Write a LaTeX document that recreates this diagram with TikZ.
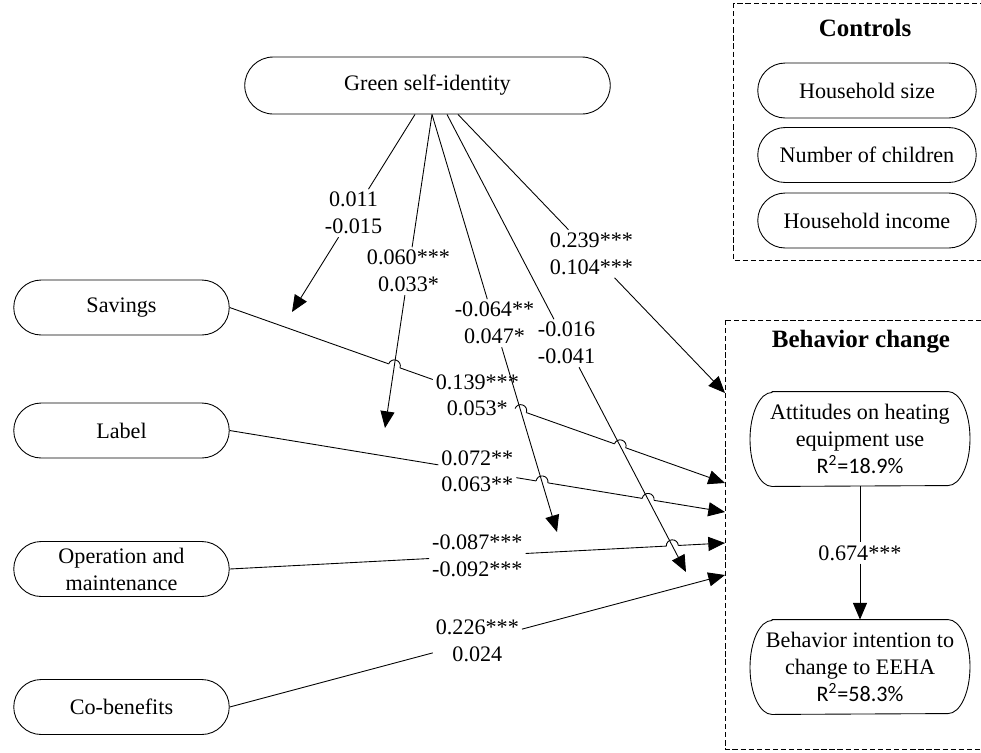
\documentclass[tikz,border=0pt]{standalone}
\usepackage{fontspec}
\setmainfont{Liberation Serif}
\newfontfamily\carlito{Carlito}
\usetikzlibrary{arrows.meta,positioning,calc,shapes.misc}

% small jump of a line over a crossing one
\newcommand{\hop}[2]{%
    \fill[white] (#1) circle (6);
    \draw (#1) ++({#2+180}:6) arc[start angle={#2+180}, end angle={#2+360}, radius=6];
}
% outline with elliptic ends round a tall node
\newcommand{\capsule}[1]{%
    \draw ($(#1.north)+(-88,0)$) -- ($(#1.north)+(88,0)$)
        arc[start angle=-90, end angle=90, x radius=22, y radius=47]
        -- ($(#1.south)+(-88,0)$)
        arc[start angle=90, end angle=270, x radius=22, y radius=47] -- cycle;
}

\begin{document}
\begin{tikzpicture}[x=0.02cm, y=-0.02cm, line width=0.5pt,
    font=\fontsize{12.6}{15.3}\selectfont,
    var/.style={draw, rounded rectangle, minimum width=219*0.02cm, minimum height=55*0.02cm, inner sep=1pt, align=center},
    tall/.style={minimum width=220*0.02cm, minimum height=94*0.02cm, inner sep=0pt, align=center},
    lab/.style={inner sep=1.5pt, align=center},
    grp/.style={dash pattern=on 3pt off 1.6pt},
    head/.style={font=\fontsize{14.2}{17}\selectfont\bfseries},
    arr/.style={-{Triangle[length=9.5pt,width=8pt]}}]
    \useasboundingbox (0,0) rectangle (981,752);

    % Predictors
    \node[var, minimum width=369*0.02cm, minimum height=57*0.02cm] (green) at (427.5,85.5) {Green self-identity};
    \node[var] (sav) at (121.5,307.5) {Savings};
    \node[var] (lbl) at (121.5,430.5) {Label};
    \node[var] (ope) at (121.5,569) {Operation and\\maintenance};
    \node[var] (cob) at (121.5,707) {Co-benefits};

    % Controls
    \draw[grp] (733,3) rectangle (990,260);
    \node[head] (ctl) at (865,28) {Controls};
    \node[var, minimum width=222*0.02cm] (hsize) at (867,90.5) {Household size};
    \node[var, minimum width=222*0.02cm] (child) at (867,155) {Number of children};
    \node[var, minimum width=222*0.02cm] (income) at (867,220.5) {Household income};

    % Behavior change
    \draw[grp] (725,320) rectangle (990,749);
    \node[head] (bch) at (861,342) {Behavior change};
    \node[tall] (att) at (860,439) {Attitudes on heating\\equipment use\\{\carlito R\textsuperscript{2}=18.9\%}};
    \node[tall] (bint) at (860,667) {Behavior intention to\\change to EEHA\\{\carlito R\textsuperscript{2}=58.3\%}};
    \capsule{att}
    \capsule{bint}

    % End points
    \coordinate (e1) at (725,393);
    \coordinate (e2) at (725,483);
    \coordinate (e3) at (725,512);
    \coordinate (e4) at (725,543);
    \coordinate (e5) at (725,575);
    \coordinate (t1) at (292,312);
    \coordinate (t2) at (385,428);
    \coordinate (t3) at (557,532);
    \coordinate (t4) at (686,572);
    \coordinate (g1) at ($(green.south)+(-12.5,0)$);
    \coordinate (g2) at ($(green.south)+(4.5,0)$);
    \coordinate (g3) at ($(green.south)+(4.5,0)$);
    \coordinate (g4) at ($(green.south)+(19.5,0)$);
    \coordinate (g5) at ($(green.south)+(30.5,0)$);

    % Paths to behavior change
    \foreach \a/\b/\txt in {sav/e2/{0.139***\\0.053*}, lbl/e3/{0.072**\\0.063**},
                            ope/e4/{-0.087***\\-0.092***}, cob/e5/{0.226***\\0.024}} {
        \path (\a.east) -- (\b) node[lab, midway] (m\a) {\txt};
        \draw (\a.east) -- (m\a);
        \draw[arr] (m\a) -- (\b);
    }

    % Jumps
    \hop{intersection of sav.east--e2 and g2--t2}{19.56}
    \hop{intersection of sav.east--e2 and g3--t3}{19.56}
    \hop{intersection of sav.east--e2 and g4--t4}{19.56}
    \hop{intersection of lbl.east--e3 and g3--t3}{9.37}
    \hop{intersection of lbl.east--e3 and g4--t4}{9.37}
    \hop{intersection of ope.east--e4 and g4--t4}{-3.01}

    % Paths from green self-identity
    \foreach \a/\b/\txt in {g1/t1/{0.011\\-0.015}, g2/t2/{0.060***\\0.033*},
                            g3/t3/{-0.064**\\0.047*}, g4/t4/{-0.016\\-0.041},
                            g5/e1/{0.239***\\0.104***}} {
        \path (\a) -- (\b) node[lab, midway] (m\a) {\txt};
        \draw (\a) -- (m\a);
        \draw[arr] (m\a) -- (\b);
    }

    % Attitudes to intention
    \path (att) -- (bint) node[lab, midway] (matt) {0.674***};
    \draw (att) -- (matt);
    \draw[arr] (matt) -- (bint);
\end{tikzpicture}
\end{document}
